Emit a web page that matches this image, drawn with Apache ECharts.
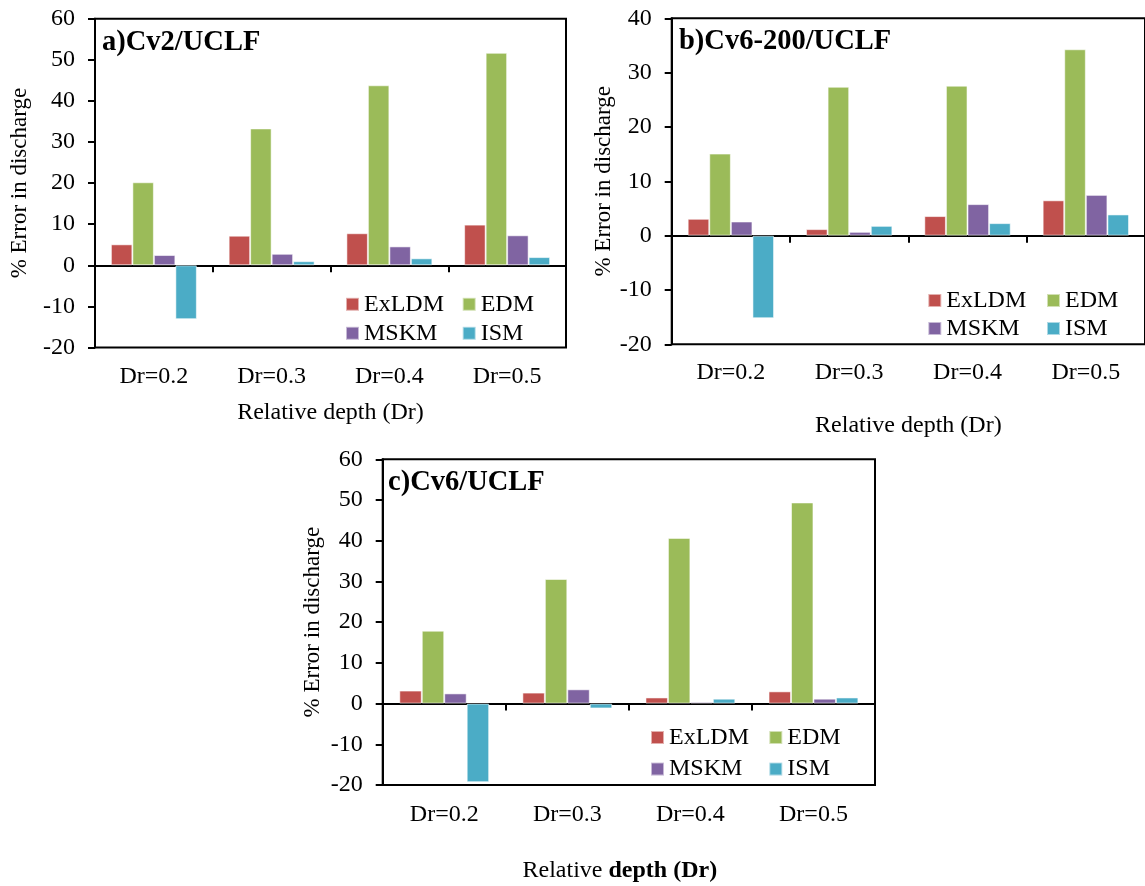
<!DOCTYPE html>
<html>
<head>
<meta charset="utf-8">
<script src="https://cdn.jsdelivr.net/npm/echarts@6/dist/echarts.min.js"></script>
<style>
html,body{margin:0;padding:0;background:#fff;}
#chart{width:1145px;height:886px;}
</style>
</head>
<body>
<div id="chart"></div>
<script>
// ---- data ----
const categories = ['Dr=0.2', 'Dr=0.3', 'Dr=0.4', 'Dr=0.5'];
const seriesNames = ['ExLDM', 'EDM', 'MSKM', 'ISM'];
const panelTitles = ['a)Cv2/UCLF', 'b)Cv6-200/UCLF', 'c)Cv6/UCLF'];
const yAxisName = '% Error in discharge';
const xAxisName = 'Relative depth (Dr)';

// Panel a) Cv2/UCLF
const a_ExLDM = [5.1, 7.2, 7.8, 9.9];
const a_EDM   = [20.2, 33.3, 43.8, 51.7];
const a_MSKM  = [2.5, 2.8, 4.6, 7.3];
const a_ISM   = [-13.1, 1.0, 1.7, 2.0];
// Panel b) Cv6-200/UCLF
const b_ExLDM = [3.1, 1.2, 3.6, 6.5];
const b_EDM   = [15.1, 27.4, 27.6, 34.3];
const b_MSKM  = [2.6, 0.7, 5.8, 7.5];
const b_ISM   = [-15.2, 1.8, 2.3, 3.9];
// Panel c) Cv6/UCLF
const c_ExLDM = [3.2, 2.7, 1.5, 3.0];
const c_EDM   = [17.9, 30.6, 40.7, 49.4];
const c_MSKM  = [2.5, 3.5, 0.4, 1.2];
const c_ISM   = [-19.3, -1.2, 1.2, 1.5];

// y-axis ranges
const yRanges = [{min: -20, max: 60}, {min: -20, max: 40}, {min: -20, max: 60}];

// ---- layout / style ----
const colors = ['#C0504D', '#9BBB59', '#8064A2', '#4BACC6'];
const FONT = 'Liberation Serif';
const panelData = [
  [a_ExLDM, a_EDM, a_MSKM, a_ISM],
  [b_ExLDM, b_EDM, b_MSKM, b_ISM],
  [c_ExLDM, c_EDM, c_MSKM, c_ISM]
];
const grids = [
  {left: 95, top: 18.7, width: 471, height: 328.8},
  {left: 671.7, top: 18.3, width: 478.3, height: 326},
  {left: 382.7, top: 459.3, width: 492.3, height: 325.7}
];
const labelMargins = [17, 16, 18];
const xNameGaps = [53, 69, 74];
const yNameGaps = [64, 53, 58];
const titlePos = [{left: 102, top: 28.5}, {left: 679, top: 27.5}, {left: 388, top: 468.5}];
const legendPos = [
  {c1: 345, c2: 461.7, top: 292.3, gap: 5},
  {c1: 927.3, c2: 1046, top: 288.5, gap: 4},
  {c1: 650, c2: 768.3, top: 725.5, gap: 7.6}
];

const option = {
  animation: false,
  backgroundColor: '#fff',
  textStyle: {fontFamily: FONT, color: '#000'},
  title: [], grid: [], xAxis: [], yAxis: [], series: [], legend: []
};

panelData.forEach((pd, p) => {
  const g = grids[p];
  option.grid.push({
    left: g.left, top: g.top, width: g.width, height: g.height,
    show: true, borderColor: '#000', borderWidth: 2, backgroundColor: 'transparent',
    containLabel: false
  });
  option.title.push({
    text: panelTitles[p], left: titlePos[p].left, top: titlePos[p].top,
    textStyle: {fontFamily: FONT, fontWeight: 'bold', fontSize: 28.5, color: '#000'},
    padding: 0
  });
  // zero-line axis (line + ticks)
  option.xAxis.push({
    type: 'category', data: categories, gridIndex: p, position: 'bottom',
    axisLine: {onZero: true, lineStyle: {color: '#000', width: 2}},
    axisTick: {show: true, length: 7, lineStyle: {color: '#000', width: 2}},
    axisLabel: {show: false}, splitLine: {show: false}
  });
  // labels axis at bottom
  const nameText = p === 2 ? '{n|Relative }{b|depth (Dr)}' : xAxisName;
  option.xAxis.push({
    type: 'category', data: categories, gridIndex: p, position: 'bottom',
    axisLine: {show: false, onZero: false}, axisTick: {show: false},
    axisLabel: {show: true, margin: labelMargins[p], fontFamily: FONT, fontSize: 24, color: '#000'},
    splitLine: {show: false},
    name: nameText, nameLocation: 'middle', nameGap: xNameGaps[p],
    nameTextStyle: p === 2 ? {
      fontFamily: FONT, fontSize: 24, color: '#000', padding: [0, 18, 0, 0],
      rich: {
        n: {fontFamily: FONT, fontSize: 24, color: '#000'},
        b: {fontFamily: FONT, fontSize: 24, color: '#000', fontWeight: 'bold'}
      }
    } : {fontFamily: FONT, fontSize: 24, color: '#000'}
  });
  option.yAxis.push({
    type: 'value', gridIndex: p, min: yRanges[p].min, max: yRanges[p].max, interval: 10,
    axisLine: {show: true, onZero: false, lineStyle: {color: '#000', width: 2}},
    axisTick: {show: true, length: 7, lineStyle: {color: '#000', width: 2}},
    axisLabel: {margin: 20, fontFamily: FONT, fontSize: 24, color: '#000'},
    splitLine: {show: false},
    name: yAxisName, nameLocation: 'middle', nameRotate: 90, nameGap: yNameGaps[p],
    nameTextStyle: {fontFamily: FONT, fontSize: 23, color: '#000'}
  });
  pd.forEach((vals, s) => {
    option.series.push({
      name: seriesNames[s], type: 'bar', data: vals,
      xAxisIndex: 2 * p, yAxisIndex: p,
      barGap: '0%', barCategoryGap: '27%',
      itemStyle: {color: colors[s], borderColor: 'rgba(255,255,255,0.55)', borderWidth: 1},
      z: 1
    });
  });
  const lp = legendPos[p];
  [[seriesNames[0], seriesNames[2]], [seriesNames[1], seriesNames[3]]].forEach((names, col) => {
    option.legend.push({
      data: names, orient: 'vertical',
      left: col === 0 ? lp.c1 : lp.c2, top: lp.top,
      itemWidth: 13, itemHeight: 13, itemGap: lp.gap, icon: 'rect', padding: 0,
      selectedMode: false,
      textStyle: {fontFamily: FONT, fontSize: 24, color: '#000', lineHeight: 24}
    });
  });
});

const chart = echarts.init(document.getElementById('chart'), null, {renderer: 'canvas'});
chart.setOption(option);
</script>
</body>
</html>
